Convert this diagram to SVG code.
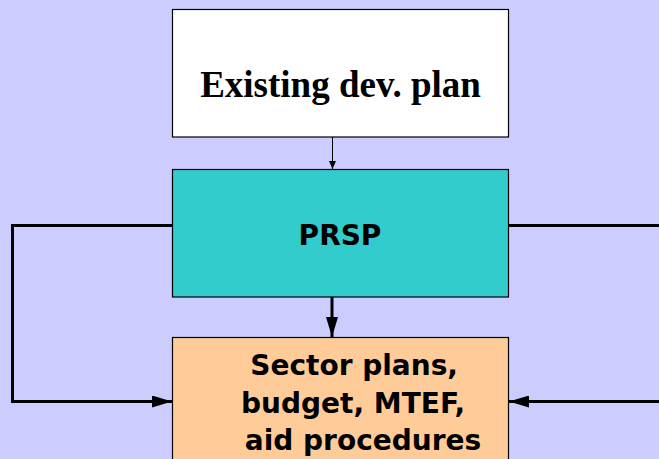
<svg xmlns="http://www.w3.org/2000/svg" width="659" height="459" viewBox="0 0 659 459">
<style>
.box{stroke:#000;stroke-width:1.2}
.thick{fill:none;stroke:#000;stroke-width:3}
.thin{fill:none;stroke:#000;stroke-width:1}
.serif{font-family:"Liberation Serif","Times New Roman",serif;font-weight:bold;fill:#000}
.sans{font-family:"DejaVu Sans",Verdana,sans-serif;font-weight:bold;fill:#000}
</style>
<defs>
<marker id="big" markerUnits="userSpaceOnUse" markerWidth="20" markerHeight="12" refX="20" refY="6" orient="auto">
<path d="M0,0 L20,6 L0,12 Z" fill="#000"/>
</marker>
<marker id="small" markerUnits="userSpaceOnUse" markerWidth="8" markerHeight="8" refX="8" refY="4" orient="auto">
<path d="M0,0.5 L8,4 L0,7.5 Z" fill="#000"/>
</marker>
</defs>
<rect width="659" height="459" fill="#CCCCFF"/>
<g id="existing">
<rect class="box" x="172.5" y="9.5" width="336" height="127.5" fill="#FFFFFF"/>
<text class="serif" x="340.5" y="97" font-size="37" text-anchor="middle">Existing dev. plan</text>
</g>
<g id="prsp">
<rect class="box" x="172.5" y="169.5" width="336" height="127.5" fill="#33CCCC"/>
<text class="sans" x="340" y="245" font-size="28" text-anchor="middle">PRSP</text>
</g>
<g id="sector">
<rect class="box" x="172.5" y="337.5" width="336" height="130" fill="#FFCC99"/>
<text class="sans" font-size="28" text-anchor="middle">
<tspan x="359" y="375">Sector plans,</tspan>
<tspan x="358" y="413">budget, MTEF,</tspan>
<tspan x="363" y="450">aid procedures</tspan>
</text>
</g>
<g id="connectors">
<path class="thin" d="M332.5,137 V169" marker-end="url(#small)"/>
<path class="thick" d="M332,297 V337" marker-end="url(#big)"/>
<path class="thick" d="M172,225.5 H12.5 V401.5 H172" marker-end="url(#big)"/>
<path class="thick" d="M509,225.5 H659"/>
<path class="thick" d="M659,401.5 H509" marker-end="url(#big)"/>
</g>
</svg>
